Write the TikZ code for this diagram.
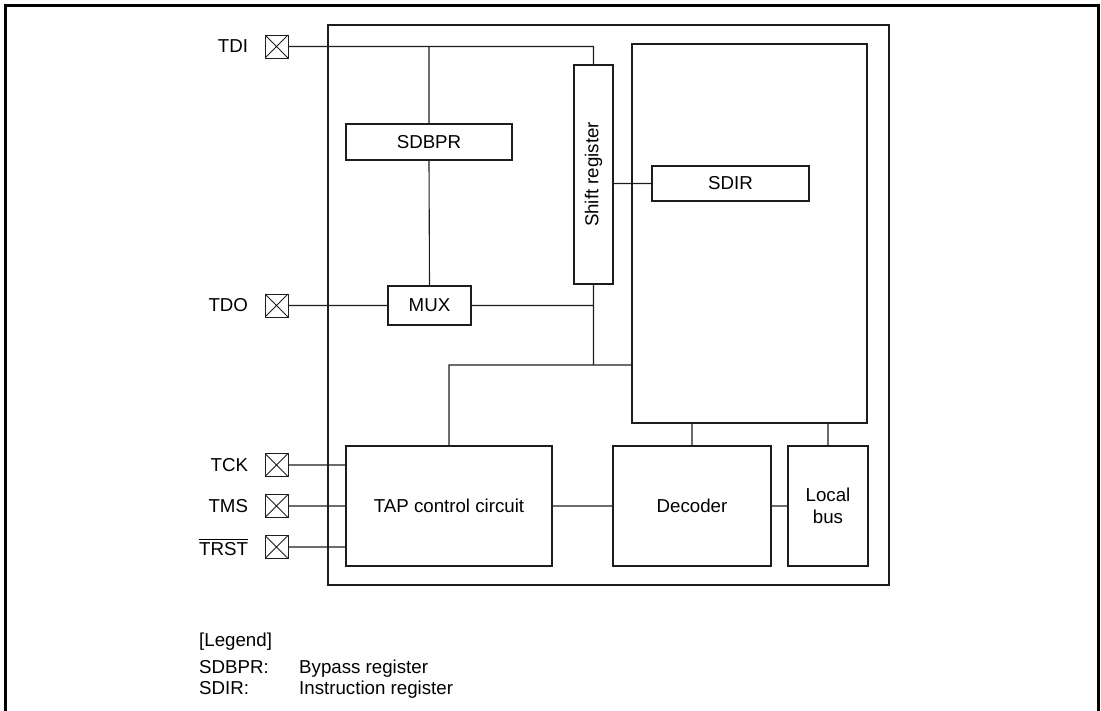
\documentclass[tikz,border=0pt]{standalone}
\usepackage{fontspec}
\setmainfont{Liberation Sans}
\usepackage{amsmath}
\usetikzlibrary{positioning}
\definecolor{ink}{rgb}{0.12,0.11,0.11}
\tikzset{
    block/.style={draw=ink, line width=1.8pt, inner sep=0pt, outer sep=0pt, align=center}, % Framed blocks
    pin/.style={draw=ink, line width=0.9pt, minimum size=23pt, inner sep=0pt, outer sep=0pt,
        path picture={\draw[ink, line width=0.9pt]
            (path picture bounding box.north west) -- (path picture bounding box.south east)
            (path picture bounding box.south west) -- (path picture bounding box.north east);}}, % Pins with a cross
    pinname/.style={inner sep=0pt, outer sep=0pt, left=17pt of #1}, % Pin names
    wire/.style={draw=ink, line width=1.1pt}, % Connections
    legend/.style={anchor=base west, inner sep=0pt}, % Legend lines
}

\begin{document}
\begin{tikzpicture}[x=1pt, y=-1pt, font=\fontsize{18.7}{21.5}\selectfont]
    \useasboundingbox (0,0) rectangle (1101,711);
    \draw[line width=3pt] (5,711) -- (5,6) -- (1098,6) -- (1098,711);

    % chip and its blocks
    \node[block, line width=2pt, minimum width=561, minimum height=560] (chip) at (608.5,305) {};
    \node[block, minimum width=166, minimum height=36] (sdbpr) at (429,142) {SDBPR};
    \node[block, minimum width=39, minimum height=219] (shift) at (593.5,174.5) {\rotatebox{90}{Shift register}};
    \node[block, minimum width=83, minimum height=39] (mux) at (429.5,305.5) {MUX};
    \node[block, minimum width=235, minimum height=379] (regs) at (749.5,233.5) {};
    \node[block, minimum width=157, minimum height=35] (sdir) at (730.5,183.5) {SDIR};
    \node[block, minimum width=206, minimum height=120] (tap) at (449,506) {TAP control circuit};
    \node[block, minimum width=158, minimum height=120] (decoder) at (692,506) {Decoder};
    \node[block, minimum width=80, minimum height=120] (lbus) at (828,506) {Local\\bus};

    % pins
    \node[pin] (tdi) at (276.5,46.5) {};
    \node[pin] (tdo) at (276.5,305.5) {};
    \node[pin] (tck) at (276.5,465) {};
    \node[pin] (tms) at (276.5,506) {};
    \node[pin] (trst) at (276.5,547) {};
    \node[pinname=tdi] (tdiname) {TDI};
    \node[pinname=tdo] (tdoname) {TDO};
    \node[pinname=tck] (tckname) {TCK};
    \node[pinname=tms] (tmsname) {TMS};
    \node[pinname=trst] (trstname) {$\overline{\mbox{TRST}}$};

    \coordinate (jn) at (593.5,365);

    \path[wire]
        (tdi.east) -| (shift.north)
        (sdbpr.north |- tdi.east) -- (sdbpr.north)
        (sdbpr.south) -- (mux.north)
        (tdo.east) -- (mux.west)
        (mux.east) -| (shift.south)
        (shift.south) -- (jn)
        (tap.north) |- (jn) -- (jn -| regs.west)
        (shift.east |- sdir.west) -- (sdir.west)
        (tck.east) -- (tap.west |- tck.east)
        (tms.east) -- (tap.west |- tms.east)
        (trst.east) -- (tap.west |- trst.east)
        (tap.east) -- (decoder.west)
        (decoder.east) -- (lbus.west)
        (decoder.north) -- (decoder.north |- regs.south)
        (lbus.north) -- (lbus.north |- regs.south);

    % legend
    \node[legend] (legtitle) at (199,646) {[Legend]};
    \node[legend] (legbp) at (199,673) {SDBPR:};
    \node[legend] (legbptext) at (299,673) {Bypass register};
    \node[legend] (legir) at (199,694) {SDIR:};
    \node[legend] (legirtext) at (299,694) {Instruction register};
\end{tikzpicture}
\end{document}
